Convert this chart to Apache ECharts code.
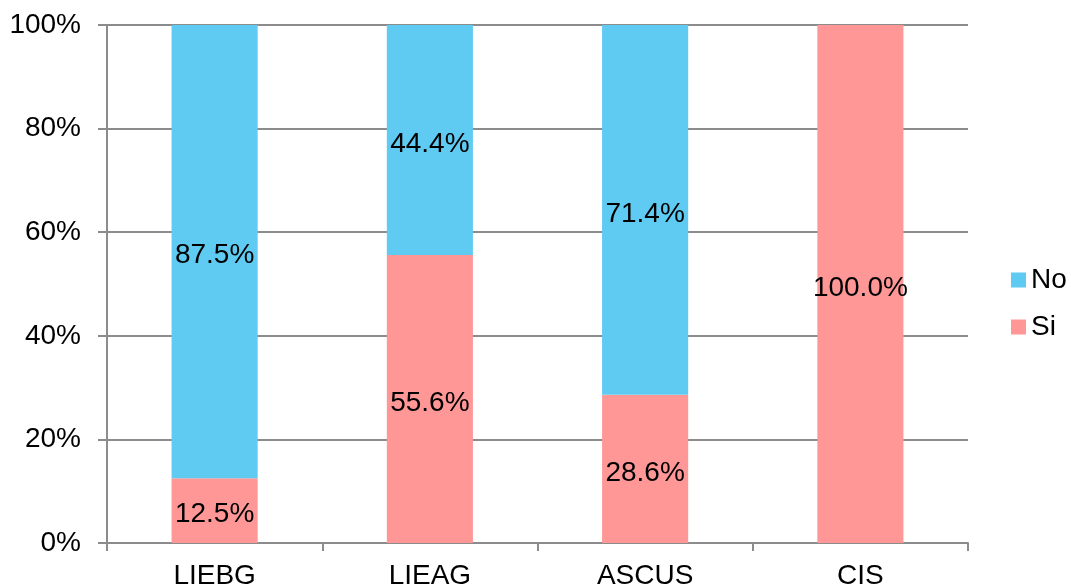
<!DOCTYPE html>
<html>
<head>
<meta charset="utf-8">
<script src="https://cdn.jsdelivr.net/npm/echarts@6/dist/echarts.min.js"></script>
<style>
  html, body { margin: 0; padding: 0; background: #fff; }
  #chart { width: 1071px; height: 586px; }
</style>
</head>
<body>
<div id="chart"></div>
<script>
// Categories and percentage shares per category
const categories = ['LIEBG', 'LIEAG', 'ASCUS', 'CIS'];
const siValues = [12.5, 55.6, 28.6, 100.0];
const noValues = [87.5, 44.4, 71.4, 0];

const FONT = 'Liberation Sans, Arial, sans-serif';
const labelStyle = {
  show: true,
  position: 'inside',
  offset: [0, 4],
  color: '#000',
  fontFamily: FONT,
  fontSize: 28,
  formatter: p => (p.value > 0 ? p.value.toFixed(1) + '%' : '')
};

const chart = echarts.init(document.getElementById('chart'));
chart.setOption({
  animation: false,
  backgroundColor: '#fff',
  grid: { left: 107, right: 103, top: 25, bottom: 43, containLabel: false, outerBoundsMode: 'none' },
  legend: {
    orient: 'vertical',
    left: 1006,
    top: 261,
    itemWidth: 15,
    itemHeight: 15,
    itemGap: 19,
    icon: 'rect',
    textStyle: { fontFamily: FONT, fontSize: 28, color: '#000' },
    data: ['No', 'Si']
  },
  xAxis: {
    type: 'category',
    data: categories,
    axisLine: { lineStyle: { color: '#8c8c8c', width: 2 } },
    axisTick: { show: true, length: 8, lineStyle: { color: '#8c8c8c', width: 2 } },
    axisLabel: { color: '#000', fontFamily: FONT, fontSize: 28, margin: 19 }
  },
  yAxis: {
    type: 'value',
    min: 0,
    max: 100,
    interval: 20,
    axisLine: { show: true, lineStyle: { color: '#8c8c8c', width: 2 } },
    axisTick: { show: true, length: 9, lineStyle: { color: '#8c8c8c', width: 2 } },
    axisLabel: { color: '#000', fontFamily: FONT, fontSize: 28, margin: 26, formatter: '{value}%' },
    splitLine: { lineStyle: { color: '#8c8c8c', width: 2 } }
  },
  series: [
    {
      name: 'Si',
      type: 'bar',
      stack: 'total',
      barWidth: '40%',
      data: siValues,
      itemStyle: { color: '#FF9797' },
      label: labelStyle
    },
    {
      name: 'No',
      type: 'bar',
      stack: 'total',
      barWidth: '40%',
      data: noValues,
      itemStyle: { color: '#5FCBF3' },
      label: labelStyle
    }
  ]
});
</script>
</body>
</html>
